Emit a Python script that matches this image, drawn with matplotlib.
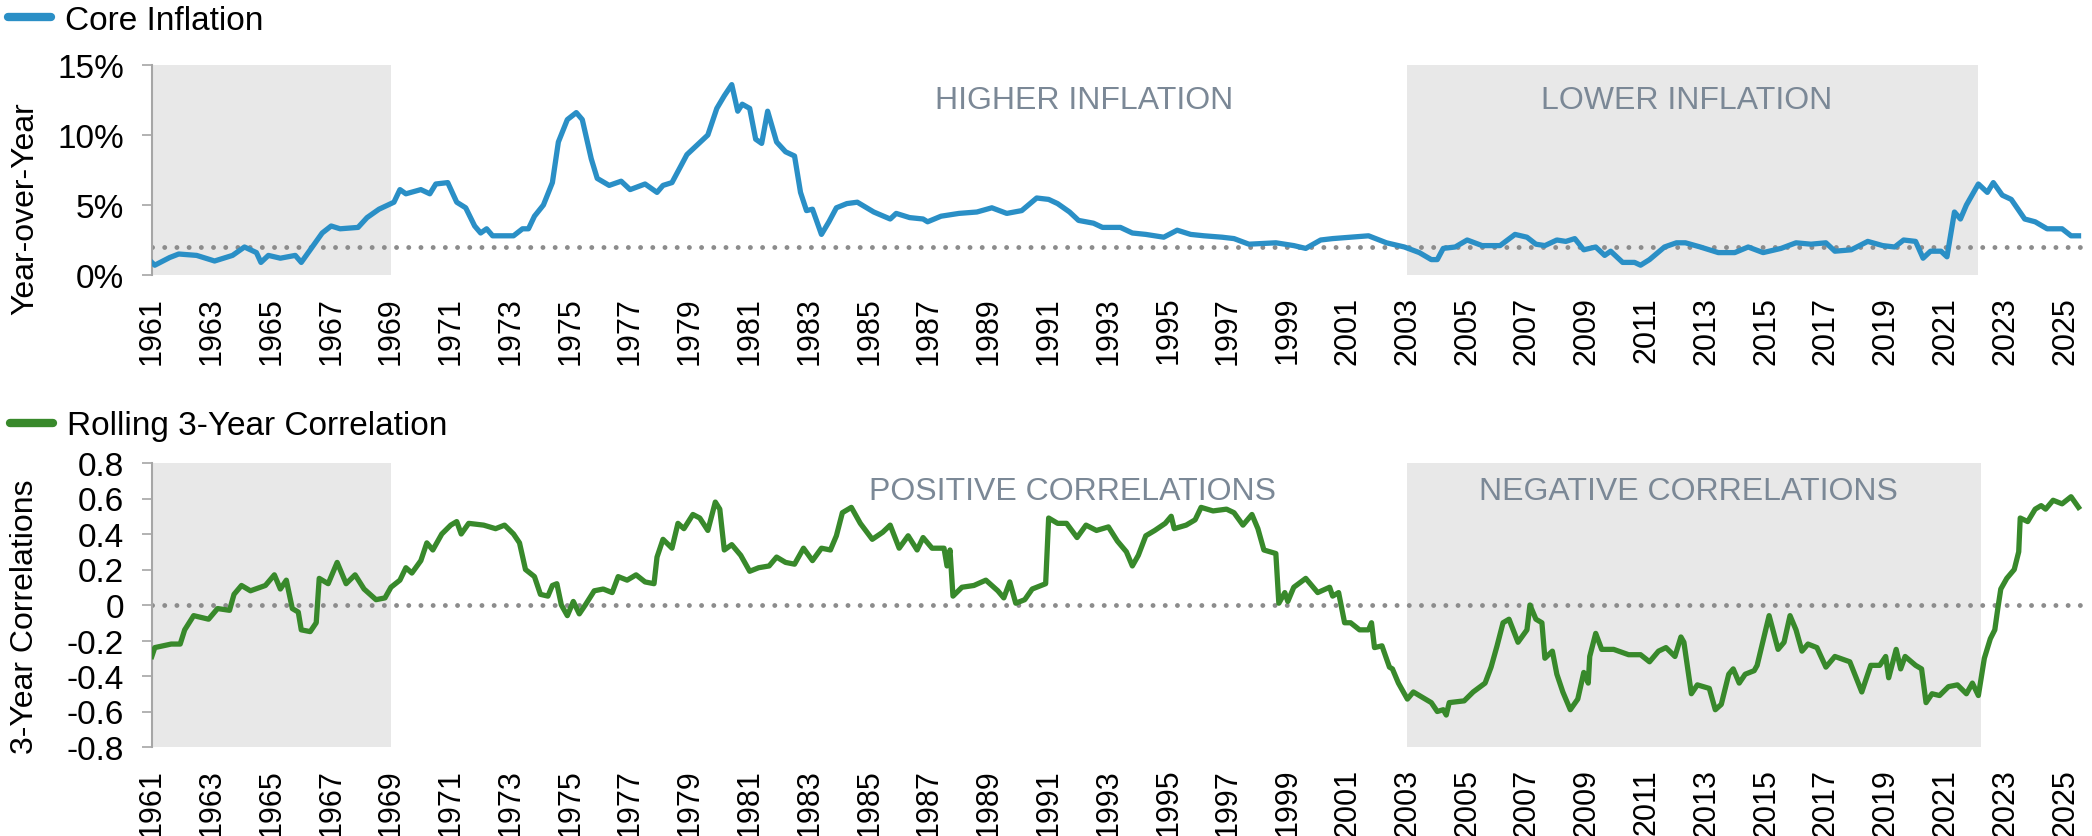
import matplotlib
matplotlib.use("Agg")
import matplotlib.pyplot as plt
from matplotlib.lines import Line2D

plt.rcParams['font.family'] = ['Liberation Sans', 'DejaVu Sans']

# ---------------- data ----------------
infl_x = [1961.0, 1961.1, 1961.6, 1961.9, 1962.5, 1963.1, 1963.7, 1964.1, 1964.5, 1964.65,
          1964.9, 1965.3, 1965.8, 1966.0, 1966.4, 1966.7, 1967.0, 1967.3, 1967.9, 1968.2,
          1968.6, 1969.1, 1969.3, 1969.5, 1970.0, 1970.3, 1970.5, 1970.9, 1971.2, 1971.5,
          1971.8, 1972.0, 1972.2, 1972.4, 1973.1, 1973.4, 1973.6, 1973.8, 1974.1, 1974.4,
          1974.6, 1974.9, 1975.2, 1975.4, 1975.7, 1975.9, 1976.3, 1976.7, 1977.0, 1977.5,
          1977.9, 1978.1, 1978.4, 1978.7, 1978.9, 1979.3, 1979.6, 1979.9, 1980.15, 1980.4,
          1980.6, 1980.75, 1981.0, 1981.2, 1981.4, 1981.6, 1981.9, 1982.2, 1982.5, 1982.7,
          1982.9, 1983.1, 1983.4, 1983.65, 1983.9, 1984.25, 1984.6, 1985.15, 1985.7, 1985.9,
          1986.35, 1986.8, 1986.95, 1987.4, 1988.0, 1988.6, 1989.1, 1989.6, 1990.1, 1990.6,
          1991.0, 1991.3, 1991.7, 1992.0, 1992.5, 1992.8, 1993.4, 1993.8, 1994.25, 1994.85,
          1995.3, 1995.75, 1996.2, 1996.8, 1997.2, 1997.7, 1998.6, 1999.2, 1999.6, 2000.1,
          2000.5, 2001.1, 2001.7, 2002.3, 2002.9, 2003.4, 2003.8, 2004.0, 2004.2, 2004.6,
          2005.0, 2005.5, 2006.1, 2006.6, 2007.0, 2007.3, 2007.6, 2008.0, 2008.3, 2008.6,
          2008.9, 2009.3, 2009.6, 2009.8, 2010.2, 2010.6, 2010.8, 2011.1, 2011.6, 2012.0,
          2012.3, 2012.8, 2013.4, 2013.95, 2014.4, 2014.9, 2015.5, 2016.0, 2016.5, 2017.0,
          2017.3, 2017.85, 2018.4, 2018.9, 2019.3, 2019.6, 2020.0, 2020.25, 2020.5, 2020.85,
          2021.05, 2021.3, 2021.5, 2021.7, 2022.1, 2022.4, 2022.6, 2022.9, 2023.2, 2023.65,
          2024.0, 2024.4, 2024.9, 2025.2, 2025.45]
infl_y = [0.9, 0.7, 1.25, 1.5, 1.4, 1.0, 1.4, 2.0, 1.6, 0.9,
          1.4, 1.2, 1.4, 0.9, 2.1, 3.0, 3.5, 3.3, 3.4, 4.1,
          4.7, 5.2, 6.1, 5.8, 6.1, 5.8, 6.5, 6.6, 5.2, 4.8,
          3.5, 3.0, 3.3, 2.8, 2.8, 3.3, 3.3, 4.2, 5.0, 6.6,
          9.5, 11.1, 11.6, 11.1, 8.3, 6.9, 6.4, 6.7, 6.1, 6.5,
          5.9, 6.4, 6.6, 7.8, 8.6, 9.4, 10.0, 11.9, 12.8, 13.6,
          11.7, 12.2, 11.9, 9.7, 9.4, 11.7, 9.5, 8.8, 8.5, 5.9,
          4.6, 4.7, 2.9, 3.8, 4.8, 5.1, 5.2, 4.5, 4.0, 4.4,
          4.1, 4.0, 3.8, 4.2, 4.4, 4.5, 4.8, 4.4, 4.6, 5.5,
          5.4, 5.1, 4.5, 3.9, 3.7, 3.4, 3.4, 3.0, 2.9, 2.7,
          3.2, 2.9, 2.8, 2.7, 2.6, 2.2, 2.3, 2.1, 1.9, 2.5,
          2.6, 2.7, 2.8, 2.3, 2.0, 1.6, 1.1, 1.1, 1.9, 2.0,
          2.5, 2.1, 2.1, 2.9, 2.7, 2.2, 2.1, 2.5, 2.4, 2.6,
          1.8, 2.0, 1.4, 1.7, 0.9, 0.9, 0.7, 1.1, 2.0, 2.3,
          2.3, 2.0, 1.6, 1.6, 2.0, 1.6, 1.9, 2.3, 2.2, 2.3,
          1.7, 1.8, 2.4, 2.1, 2.0, 2.5, 2.4, 1.2, 1.7, 1.7,
          1.3, 4.5, 4.0, 5.0, 6.5, 5.9, 6.6, 5.7, 5.4, 4.0,
          3.8, 3.3, 3.3, 2.8, 2.8]

corr_x = [1961.0, 1961.1, 1961.65, 1961.95, 1962.1, 1962.4, 1962.9, 1963.2, 1963.6, 1963.75,
          1964.0, 1964.3, 1964.8, 1965.1, 1965.3, 1965.5, 1965.7, 1965.9, 1966.0, 1966.3,
          1966.5, 1966.6, 1966.9, 1967.2, 1967.5, 1967.8, 1968.1, 1968.5, 1968.8, 1969.0,
          1969.3, 1969.5, 1969.7, 1970.0, 1970.2, 1970.4, 1970.7, 1971.0, 1971.2, 1971.35,
          1971.6, 1972.1, 1972.5, 1972.8, 1973.1, 1973.3, 1973.5, 1973.8, 1974.0, 1974.25,
          1974.4, 1974.55, 1974.7, 1974.9, 1975.1, 1975.3, 1975.5, 1975.8, 1976.1, 1976.4,
          1976.6, 1976.9, 1977.2, 1977.5, 1977.8, 1977.9, 1978.1, 1978.4, 1978.6, 1978.8,
          1979.1, 1979.33, 1979.6, 1979.85, 1980.0, 1980.15, 1980.4, 1980.7, 1981.0, 1981.3,
          1981.65, 1981.9, 1982.2, 1982.5, 1982.8, 1983.1, 1983.4, 1983.7, 1983.9, 1984.1,
          1984.4, 1984.7, 1985.1, 1985.45, 1985.7, 1986.0, 1986.3, 1986.6, 1986.8, 1987.1,
          1987.5, 1987.6, 1987.7, 1987.8, 1988.1, 1988.5, 1988.9, 1989.3, 1989.5, 1989.7,
          1989.9, 1990.2, 1990.45, 1990.9, 1991.0, 1991.3, 1991.6, 1991.95, 1992.25, 1992.6,
          1993.0, 1993.3, 1993.6, 1993.8, 1994.0, 1994.25, 1994.55, 1994.9, 1995.1, 1995.2,
          1995.6, 1995.9, 1996.1, 1996.5, 1996.95, 1997.2, 1997.5, 1997.8, 1998.0, 1998.2,
          1998.6, 1998.7, 1998.9, 1999.0, 1999.2, 1999.6, 2000.0, 2000.4, 2000.5, 2000.7,
          2000.9, 2001.1, 2001.4, 2001.7, 2001.8, 2001.9, 2002.15, 2002.4, 2002.5, 2002.7,
          2003.0, 2003.2, 2003.5, 2003.8, 2004.0, 2004.2, 2004.3, 2004.4, 2004.9, 2005.2,
          2005.6, 2005.8, 2006.0, 2006.2, 2006.4, 2006.7, 2007.0, 2007.1, 2007.3, 2007.5,
          2007.6, 2007.85, 2008.0, 2008.2, 2008.45, 2008.7, 2008.9, 2009.05, 2009.1, 2009.3,
          2009.5, 2009.9, 2010.4, 2010.8, 2011.1, 2011.4, 2011.65, 2011.95, 2012.15, 2012.25,
          2012.5, 2012.7, 2013.1, 2013.3, 2013.5, 2013.75, 2013.9, 2014.1, 2014.3, 2014.6,
          2014.7, 2015.0, 2015.1, 2015.4, 2015.6, 2015.8, 2016.0, 2016.2, 2016.4, 2016.7,
          2017.0, 2017.3, 2017.8, 2018.2, 2018.5, 2018.8, 2019.0, 2019.1, 2019.35, 2019.5,
          2019.65, 2020.0, 2020.2, 2020.35, 2020.55, 2020.8, 2021.1, 2021.4, 2021.7, 2021.9,
          2022.1, 2022.3, 2022.5, 2022.65, 2022.75, 2022.85, 2023.05, 2023.3, 2023.45, 2023.5,
          2023.75, 2024.0, 2024.2, 2024.35, 2024.6, 2024.9, 2025.2, 2025.45]
corr_y = [-0.29, -0.24, -0.22, -0.22, -0.14, -0.06, -0.08, -0.02, -0.03, 0.06,
          0.11, 0.08, 0.11, 0.17, 0.09, 0.14, -0.02, -0.04, -0.14, -0.15,
          -0.10, 0.15, 0.12, 0.24, 0.12, 0.17, 0.09, 0.03, 0.04, 0.10,
          0.14, 0.21, 0.18, 0.25, 0.35, 0.31, 0.40, 0.45, 0.47, 0.40,
          0.46, 0.45, 0.43, 0.45, 0.40, 0.35, 0.20, 0.16, 0.06, 0.05,
          0.11, 0.12, 0.00, -0.06, 0.02, -0.05, 0.00, 0.08, 0.09, 0.07,
          0.16, 0.14, 0.17, 0.13, 0.12, 0.27, 0.37, 0.32, 0.46, 0.43,
          0.51, 0.49, 0.42, 0.58, 0.54, 0.31, 0.34, 0.28, 0.19, 0.21,
          0.22, 0.27, 0.24, 0.23, 0.32, 0.25, 0.32, 0.31, 0.39, 0.52,
          0.55, 0.46, 0.37, 0.41, 0.45, 0.32, 0.39, 0.31, 0.38, 0.32,
          0.32, 0.22, 0.31, 0.05, 0.10, 0.11, 0.14, 0.08, 0.04, 0.13,
          0.01, 0.03, 0.09, 0.12, 0.49, 0.46, 0.46, 0.38, 0.45, 0.42,
          0.44, 0.36, 0.30, 0.22, 0.28, 0.39, 0.42, 0.46, 0.50, 0.43,
          0.45, 0.48, 0.55, 0.53, 0.54, 0.52, 0.45, 0.51, 0.43, 0.31,
          0.29, 0.01, 0.07, 0.02, 0.10, 0.15, 0.07, 0.10, 0.05, 0.07,
          -0.10, -0.10, -0.14, -0.14, -0.10, -0.24, -0.23, -0.35, -0.36, -0.44,
          -0.53, -0.49, -0.52, -0.55, -0.60, -0.59, -0.62, -0.55, -0.54, -0.49,
          -0.44, -0.35, -0.23, -0.10, -0.08, -0.21, -0.14, 0.00, -0.08, -0.10,
          -0.30, -0.26, -0.39, -0.49, -0.59, -0.53, -0.38, -0.44, -0.29, -0.16,
          -0.25, -0.25, -0.28, -0.28, -0.32, -0.26, -0.24, -0.29, -0.18, -0.21,
          -0.50, -0.45, -0.47, -0.59, -0.56, -0.39, -0.36, -0.44, -0.39, -0.37,
          -0.34, -0.13, -0.06, -0.25, -0.21, -0.06, -0.14, -0.26, -0.22, -0.24,
          -0.35, -0.29, -0.32, -0.49, -0.34, -0.34, -0.29, -0.41, -0.25, -0.36,
          -0.29, -0.34, -0.36, -0.55, -0.50, -0.51, -0.46, -0.45, -0.50, -0.44,
          -0.51, -0.30, -0.19, -0.14, -0.02, 0.09, 0.15, 0.20, 0.30, 0.49,
          0.47, 0.54, 0.56, 0.54, 0.59, 0.57, 0.61, 0.55]

year_ticks = list(range(1961, 2026, 2))
year_labels = [str(y) for y in year_ticks]

infl_ticks = [0, 5, 10, 15]
infl_tick_labels = ['0%', '5%', '10%', '15%']
corr_ticks = [-0.8, -0.6, -0.4, -0.2, 0, 0.2, 0.4, 0.6, 0.8]
corr_tick_labels = ['-0.8', '-0.6', '-0.4', '-0.2', '0', '0.2', '0.4', '0.6', '0.8']

infl_target = 2.0
corr_ref = 0.0

top_regimes = [(1961.0, 1969.0), (2003.0, 2022.1)]
bot_regimes = [(1961.0, 1969.0), (2003.0, 2022.2)]
top_notes = [(1992.2, 12.5, 'HIGHER INFLATION'), (2012.35, 12.5, 'LOWER INFLATION')]
bot_notes = [(1991.8, 0.64, 'POSITIVE CORRELATIONS'), (2012.4, 0.64, 'NEGATIVE CORRELATIONS')]

# ---------------- style ----------------
BLUE = '#2A8FC6'
GREEN = '#38892B'
SHADE = '#E8E8E8'
DOT = '#8C8C8C'
NOTE = '#7B8896'
SPINE = '#A6A6A6'
FS = 24
FS_X = 22
FS_YLAB = 23
FS_NOTE = 23

W, H = 2092, 837
fig = plt.figure(figsize=(W / 100, H / 100), dpi=100)

left = 151.8 / W
right = 2083 / W
ax1 = fig.add_axes([left, 1 - 276 / H, right - left, 210 / H])
ax2 = fig.add_axes([left, 1 - 748 / H, right - left, 284 / H])

xlim = (1961.0, 2025.6)


def style(ax, yt, ytl, ylim):
    ax.set_xlim(*xlim)
    ax.set_ylim(*ylim)
    for s in ['top', 'right', 'bottom']:
        ax.spines[s].set_visible(False)
    ax.spines['left'].set_color(SPINE)
    ax.spines['left'].set_linewidth(1.5)
    ax.set_yticks(yt)
    ax.set_yticklabels(ytl, fontsize=FS)
    ax.set_xticks(year_ticks)
    ax.set_xticklabels(year_labels, rotation=90, fontsize=FS_X)
    ax.tick_params(axis='x', length=0, pad=15)
    ax.tick_params(axis='y', length=7, width=1.2, color=SPINE, pad=13)
    ax.patch.set_alpha(0)


DOTSTYLE = (0, (0.01, 2.5))

# top panel
for a, b in top_regimes:
    ax1.axvspan(a, b, color=SHADE, lw=0, zorder=0)
ax1.axhline(infl_target, color=DOT, lw=3.5, linestyle=DOTSTYLE,
            dash_capstyle='round', zorder=1)
ax1.plot(infl_x, infl_y, color=BLUE, lw=3.8, zorder=3, solid_joinstyle='round')
style(ax1, infl_ticks, infl_tick_labels, (0, 15))
for x, y, t in top_notes:
    ax1.text(x, y, t, ha='center', va='center', fontsize=FS_NOTE, color=NOTE)

# bottom panel
for a, b in bot_regimes:
    ax2.axvspan(a, b, color=SHADE, lw=0, zorder=0)
ax2.axhline(corr_ref, color=DOT, lw=3.5, linestyle=DOTSTYLE,
            dash_capstyle='round', zorder=1)
ax2.plot(corr_x, corr_y, color=GREEN, lw=3.8, zorder=3, solid_joinstyle='round')
style(ax2, corr_ticks, corr_tick_labels, (-0.8, 0.8))
for x, y, t in bot_notes:
    ax2.text(x, y, t, ha='center', va='center', fontsize=FS_NOTE, color=NOTE)

# y labels
fig.text(25 / W, 1 - 209 / H, 'Year-over-Year', rotation=90, ha='center', va='center', fontsize=FS_YLAB)
fig.text(25 / W, 1 - 617 / H, '3-Year Correlations', rotation=90, ha='center', va='center', fontsize=FS_YLAB)

# legends
h1 = Line2D([], [], color=BLUE, lw=6, solid_capstyle='round')
h2 = Line2D([], [], color=GREEN, lw=6, solid_capstyle='round')
fig.legend([h1], ['Core Inflation'], loc='center left', bbox_to_anchor=(8 / W, 1 - 21 / H),
           frameon=False, fontsize=FS, handlelength=1.3, handletextpad=0.4,
           borderpad=0, borderaxespad=0)
fig.legend([h2], ['Rolling 3-Year Correlation'], loc='center left', bbox_to_anchor=(10 / W, 1 - 427 / H),
           frameon=False, fontsize=FS, handlelength=1.3, handletextpad=0.4,
           borderpad=0, borderaxespad=0)

fig.savefig('out.png', dpi=100, facecolor='white')
